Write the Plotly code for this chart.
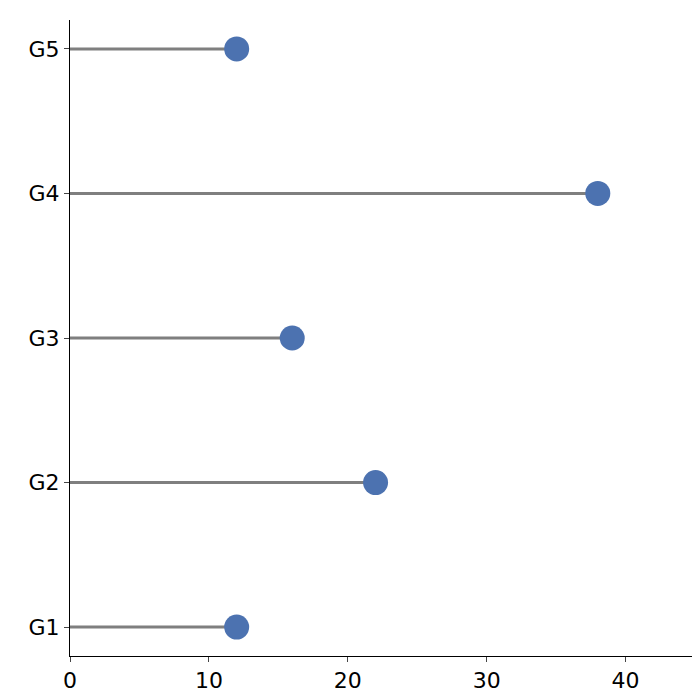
import plotly.graph_objects as go

groups = ["G1", "G2", "G3", "G4", "G5"]
values = [12, 22, 16, 38, 12]

lx, ly = [], []
for g, v in zip(groups, values):
    lx += [0, v, None]
    ly += [g, g, None]

fig = go.Figure()
fig.add_trace(go.Scatter(x=lx, y=ly, mode="lines", line=dict(color="#7f7f7f", width=3), hoverinfo="skip"))
fig.add_trace(go.Scatter(x=values, y=groups, mode="markers", marker=dict(color="#4c72b0", size=25)))

fig.update_layout(
    width=700, height=700, showlegend=False,
    plot_bgcolor="white", paper_bgcolor="white",
    margin=dict(l=62, r=13, t=12, b=52),
    font=dict(family="DejaVu Sans", size=22, color="black"),
)
fig.update_xaxes(range=[0, 45], tickvals=[0, 10, 20, 30, 40], showgrid=False, zeroline=False,
                 showline=True, linecolor="black", linewidth=1, ticks="outside", ticklen=5)
fig.update_yaxes(type="category", categoryorder="array", categoryarray=groups, range=[-0.2, 4.2],
                 showgrid=False, zeroline=False, showline=True, linecolor="black", linewidth=1,
                 ticks="outside", ticklen=5)
fig.write_html("out.html")
